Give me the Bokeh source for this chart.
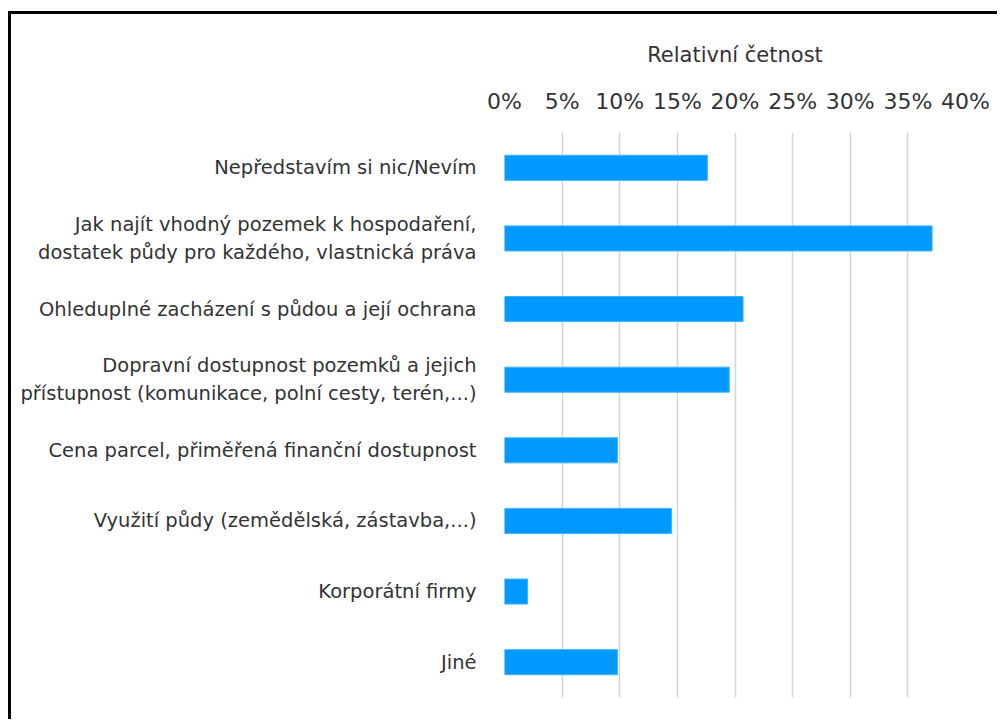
from bokeh.plotting import figure
from bokeh.models import FactorRange, FixedTicker, NumeralTickFormatter, ColumnDataSource
from bokeh.embed import file_html
from bokeh.resources import INLINE

categories = [
    "Nepředstavím si nic/Nevím",
    "Jak najít vhodný pozemek k hospodaření,\ndostatek půdy pro každého, vlastnická práva",
    "Ohleduplné zacházení s půdou a její ochrana",
    "Dopravní dostupnost pozemků a jejich\npřístupnost (komunikace, polní cesty, terén,...)",
    "Cena parcel, přiměřená finanční dostupnost",
    "Využití půdy (zemědělská, zástavba,...)",
    "Korporátní firmy",
    "Jiné",
]
values = [0.176, 0.371, 0.207, 0.195, 0.098, 0.145, 0.020, 0.098]
tick_values = [0.0, 0.05, 0.10, 0.15, 0.20, 0.25, 0.30, 0.35, 0.40]
axis_title = "Relativní četnost"

FONT = "DejaVu Sans"
TXT = "#333333"

src = ColumnDataSource(data=dict(cat=categories, val=values))

p = figure(
    width=989, height=708,
    y_range=FactorRange(factors=list(reversed(categories))),
    x_range=(0, 0.40),
    x_axis_location="above",
    output_backend="svg", toolbar_location=None,
    min_border_left=493, min_border_right=35, min_border_top=118, min_border_bottom=25,
)
p.styles = {"border-left": "3px solid black", "border-top": "3px solid black",
            "margin-top": "11px", "margin-left": "8px"}
p.outline_line_color = None
p.background_fill_color = "white"
p.border_fill_color = "white"

p.hbar(y="cat", right="val", left=0, height=0.355, source=src,
       fill_color="#0099FF", line_color="#3FB3FF", line_width=1)

xa = p.xaxis[0]
xa.ticker = FixedTicker(ticks=tick_values)
xa.formatter = NumeralTickFormatter(format="0%")
xa.axis_label = axis_title
xa.axis_label_text_font = FONT
xa.axis_label_text_font_style = "normal"
xa.axis_label_text_font_size = "21px"
xa.axis_label_text_color = TXT
xa.axis_label_standoff = 19
xa.major_label_text_font = FONT
xa.major_label_text_font_size = "22px"
xa.major_label_text_color = TXT
xa.major_label_standoff = 13
xa.axis_line_color = None
xa.major_tick_line_color = None
xa.minor_tick_line_color = None

ya = p.yaxis[0]
ya.major_label_text_font = FONT
ya.major_label_text_font_size = "19.5px"
ya.major_label_text_color = TXT
ya.major_label_standoff = 22
ya.axis_line_color = None
ya.major_tick_line_color = None
ya.minor_tick_line_color = None

p.xgrid.grid_line_color = "#d4d4d4"
p.xgrid.grid_line_width = 1.5
p.ygrid.grid_line_color = None

open("out.html", "w").write(file_html(p, INLINE))
